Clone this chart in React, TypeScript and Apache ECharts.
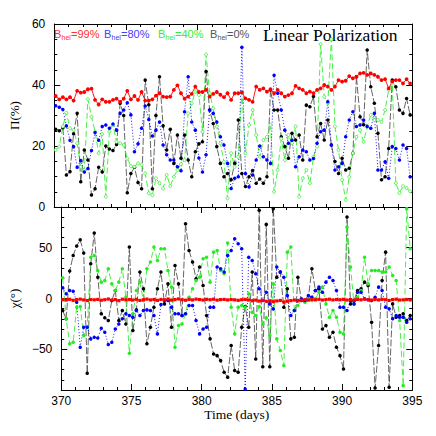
import React, { useEffect, useRef } from "react";
import * as echarts from "echarts";

// Observation times (days)
const times = [
  370.1, 370.35, 370.6, 370.85, 371.1, 371.35, 371.6, 371.85, 372.1, 372.35, 372.6, 372.85,
  373.1, 373.35, 373.6, 373.85, 374.1, 374.35, 374.6, 374.85, 375.1, 375.35, 375.6, 375.85,
  376.1, 376.35, 376.6, 376.85, 377.1, 377.35, 377.6, 377.85, 378.1, 378.35, 378.6, 378.85,
  379.1, 379.35, 379.6, 379.85, 380.1, 380.35, 380.6, 380.85, 381.1, 381.35, 381.6, 381.85,
  382.1, 382.35, 382.6, 382.85, 383.1, 383.35, 383.6, 383.85, 384.1, 384.35, 384.6, 384.85,
  385.1, 385.35, 385.6, 385.85, 386.1, 386.35, 386.6, 386.85, 387.1, 387.35, 387.6, 387.85,
  388.1, 388.35, 388.6, 388.85, 389.1, 389.35, 389.6, 389.85, 390.1, 390.35, 390.6, 390.85,
  391.1, 391.35, 391.6, 391.85, 392.1, 392.35, 392.6, 392.85, 393.1, 393.35, 393.6, 393.85,
  394.1, 394.35, 394.6, 394.85,
];

// Linear polarization Π (%)
const polB99 = [
  36.4, 35.3, 36, 35.3, 36, 34.9, 38.1, 37.5, 37.7, 38.6, 38.8, 35.1, 33.6, 35.3, 34.5, 34.5,
  35.1, 35.5, 34.5, 35.5, 38.1, 35.3, 36.4, 35.1, 37.7, 34.9, 34.9, 35.3, 36.5, 37.3, 36.2, 36,
  36.2, 38.4, 39.9, 37.3, 35.5, 36.2, 37.1, 39.5, 37.7, 37.7, 38.4, 36.2, 37.1, 37.7, 36.8, 36,
  37.3, 35.1, 37.3, 37.3,
  37.6, 35.6, 35.1, 34.5, 39.5, 38.4, 38.9, 37.8, 38.6, 37.3, 38.4, 37.3, 36.2, 36.7, 37.3, 39.7,
  38.9, 38.4, 37.3, 37.8, 37.3, 38.4, 38.9, 40, 39.5, 38.4, 39.5, 41.6, 41.1, 41.4, 42.9, 42.2,
  42.7, 43.8, 44, 43.3, 43.8, 43.3, 42.7, 41.6, 41.9, 38.9, 41.1, 41.6, 41.6, 40.5, 41.9, 40.5,
];
const polB80 = [
  33.2, 32.7, 32, 26.6, 21.9, 19.8, 13, 15.2, 11.5, 12.6, 18.5, 24.4, 21.9, 26.4, 26.9, 25.8,
  27.2, 25.2, 30.7, 31.8, 34.2, 30.2, 18.1, 20.7, 25.8, 33.1, 28.7, 23.3, 25.2, 27.9, 20.3, 17.1,
  15.4, 15.4, 13.2, 11.9, 31.2, 42.7, 27.9, 25.2, 16.1, 11.5, 17.1, 31.8, 30.7, 27.9, 23, 20.3,
  14.3, 6.1, 9.4, 9.9, 52.4,
  11, 6.6, 10.5, 15.4, 20, 16.5, 15.4, 14.3, 43.2, 37.3, 31.8, 25.2, 20.9, 21.9, 13.2, 16.5,
  18.7, 18.1, 15.4, 15.9, 20.9, 24.7, 25.2, 34.5, 20.3, 12.1, 13.2, 14.3, 23, 28.5, 31.2, 26.4,
  26.9, 28.5, 26.4, 25.8, 30.7, 12.1, 12.1, 14.8, 9.4, 19.8, 19.2, 15.4, 20.3, 19.2, 9.9,
];
const polB40 = [
  18.7, 19.8, 26.4, 30.9, 25.8, 25.2, 20.9, 13.2, 12.1, 35.3, 29.6, 24.7, 17.6, 23.9, 3.4, 24.7,
  26.9, 21.4, 20.9, 20.3, 15.9, 13.4, 13.2, 14.3, 13.8, 11, 4.5, 3.9, 9.4, 7.8, 6.1, 10.5,
  6.9, 9.9, 12.1, 14.1, 15.4, 30.7, 34, 37.8, 36.7, 24.7,
  50, 37.3, 32.3, 26.4, 20.9, 14.8, 2.8, 17.6, 13.2, 16.5, 37.6,
  17.6, 26.9, 31.8, 23.6, 16.5, 21.9, 23, 26.9, 5, 12.1, 22.4, 15.4, 23.6, 20.9, 26.4, 3.4,
  9.4, 12.1, 7.8, 16.5, 19.8,
  53.4, 36.2, 34, 55,
  26.4, 18.7, 8.9, 2.3, 9.9, 17.6, 23, 25.2, 21.4, 26.4, 30.2, 28.5, 28.5, 27.9, 31.8, 38.4,
  40.5, 7.8, 4.6, 6.8, 6.2, 5.1,
];
const polB0 = [
  25.5, 25, 26, 10.5, 11.6, 24, 30.7, 8.3, 18.7, 15.4, 3.9, 6, 13, 11.5, 20, 19, 18.5, 20.5,
  34, 30, 4.7, 11, 13, 8, 6, 41.6, 33.5, 6, 30, 42.7, 26.6, 18.7, 25.5,
  14.3, 23.6, 16, 23.6, 15.4, 9.9, 18.1, 20.7, 21.4, 44.4, 31.8, 27.4, 19.8, 14.3, 9.9, 11,
  8.9, 14.3, 28.5, 11, 6.7, 9.9, 12, 7.8, 9.2, 7.8, 9.9, 38.4, 31.8, 31.8, 23, 19.8, 16, 24.2, 22,
  23.6, 15.4, 33.4, 32.9, 36.2, 23, 27.4, 22, 28.5, 20.3, 14.9, 11, 16, 12.1, 12.7, 17.6,
  42.7, 29.6, 27, 51.5, 39.4, 34, 24.2, 8.9, 9.9, 19.2, 41.6, 39.4, 31.8, 30.7, 35.6, 30.2,
];

// Polarization angle χ (degrees)
const chiB99 = [
  -1.2, -1.5, -0.8, -1.8, -1.1, -0.6, -1.4, -2.0, -1.0, -1.3,
  -0.9, -1.7, -1.2, -0.5, -1.6, -1.1, -2.1, -0.7, -1.3, -1.0,
  -1.5, -0.8, -1.9, -1.2, -0.6, -1.4, -1.0, -1.8, -0.9, -1.3,
  -0.5, -1.6, -1.1, -0.4, -1.2, -1.7, -0.9, -1.4, -0.6, -1.0,
  -1.5, -0.8, -1.2, -0.7, -1.6, -1.1, -0.9, -1.4, -1.0, -1.3,
  -1.8, -1.2, -0.9, -1.5, -2.2, -1.6, -2.5, -1.9, -2.8, -2.2,
  -3.0, -2.4, -1.9, -3.4, -2.7, -2.1, -1.5, -2.3, -1.8, -1.2,
  -1.6, -0.9, -1.3, -0.8, -1.5, -1.1, -0.7, -1.4, -1.0, -1.2,
  -0.8, -1.5, -1.1, -1.7, -0.9, -1.3, -0.6, -1.2, -1.6, -1.0,
  -1.4, -0.8, -1.2, -1.9, -1.1, -0.7, -1.5, -1.3, -1.0, -1.4,
];
const chiB80 = [
  10.5, 4.6, 7.9, 7.2, -3.6, -47.9, -28.2, -28.2, -39.7, -38.1, -38.8, -29.2, -33.2, -45.3, -43, -29.9,
  -25, -20, -15.1, -16.7, -18.4, -11.8, -16.7, -11.8, -11.2, -11.8, -16.7, -34.8, -5.9, -2, -2, -8.5,
  -15.1, -15.1, -16.7, -15.1, -6.9, -6.9, -21.7, -34.8, -29.9, -28.2, -8.5, -8.5, 30.9, 29.3, 26, 42.3,
  47.3, 58.8, 53.9, 48.9, -89,
  40.6, 37.4, 24.3, 9.5, -2, 6.2, -5.3, -10.2, 30.9, 26, 21, 2.9, -16.7, -11.8, -2, -0.3,
  -2, 2.9, 1.3, 7.9, 11.2, 6.2, 16.1, 21, 17.7, 7.9, -8.5, -8.5, -11.8, -2, -5.3, 6.2,
  6.2, -0.3, -1.3, -2, 1.3, 11.2, 7.9, -8.5, -10.2, -20, -16.7, -18.4, -18.4, -23.3, -20,
];
const chiB40 = [
  20.4, -20, -44.6, -43, -8.5, -7.9, -36.5, -28.2, 40.6, 42.3, 27.6, 16.1, 17.7, 29.3, 14.4, 7.9,
  16.1, 29.3, 1.3, -53.9, -15.1, 7.9, 16.1, -2, 29.3, 35.8, 50.6, 37.4, 48.9, 48.9, 27.6, 11.2,
  -47.9, -26.6, -25, -15.1, 1.3, 9.5, 17.7, 21, 39.1, 40.6, 16.1, 45.6, 47.3, 27.6, 24.3, 54.5,
  -8.5, -34.8, -8.5, -6.9, -8.5,
  4.6, -13.5, -16.7, -8, -25, -19, -36.5, 14.4, -39.7, -51.2, -66, 45.6, 50.6, -11.8, -6.9, -2,
  -3.6, 1.3, -2, -0.3, 6.2, 11.2, -5.3, -18.4, -11.8, -18.4, -33.2, -34.8, 70.2, 30.9, -5.3, 1.3,
  7.9, 40.6, 14.4, 27.6, 27.6, 27.6, 26, 26, 30.9, 22.7, 17.7, -21.7, -85.7, 88.4, 48.9,
];
const chiB0 = [
  -11.9, -20, 27, 42.3, 51.6, 57.8, 44.7, -73.5, 34.2, 64.4, 21, -15.1, -19, -21.7, -2, 7.9,
  -21.7, -11.9, -25, 50.6, -31.5, -11.2, 26, 9.5, -44.6, -28.2, -8.5, 9.5, 26, -5.3, 14.4, -28.2,
  32.5, 14.4, -16.7, 73.6, 47.3, 35.8, 19.4, 30.9, 12.8, -16.7, -39.7, -54.5, -56.2, -61.1, -72.6, -77.5,
  -46.3, -70.9, -72.6, -28.2,
  -7.9, -28.2, 26, -59.5, 86.7, -67.1, 72.9, -67.1, 88.4, 21, 26, -8.5, 9.5, -39.7, -38.1, 21,
  -2, -2, 1.3, 29.3, 7.9, 9.5, -29.9, -26.6, -38.1, -33.2, -47.9, -56.2, -69.4, 80.1, -5.3, -2,
  7.9, 9.5, 16.1, 12.8, -23.3, -88, -46.3, 17.7, 45.6, -87.3, -5.3, -18.4, -16.7, -15.1, -21.7, -16.7,
];

const legendItems = [
  { label: "=99%", color: "#ff3030" },
  { label: "=80%", color: "#4040ff" },
  { label: "=40%", color: "#33ee33" },
  { label: "=0%", color: "#555555" },
];
const timeTicks = [370, 375, 380, 385, 390, 395];
const chiLabelValues = [-50, 0, 50];

const COLORS = { b99: "#ff0000", b80: "#0000ff", b40: "#22ee22", b0: "#000000" };

const GL = 47.7;
const GW = 364.6;
const TOP1 = 24;
const H = 183;
const TOP2 = TOP1 + H;

const sansFont = "Liberation Sans, Arial, sans-serif";
const serifFont = "Liberation Serif, Times New Roman, serif";

function pairs(vals: number[]) {
  return times.map((t, i) => [t, vals[i]]);
}

function xAxisDef(gridIndex: number, position: string, showLabel: boolean, name?: string) {
  return {
    type: "value",
    gridIndex,
    position,
    min: timeTicks[0],
    max: timeTicks[timeTicks.length - 1],
    interval: 5,
    name: name || "",
    nameLocation: "middle",
    nameGap: 14,
    nameTextStyle: { fontFamily: serifFont, fontSize: 13.5, color: "#000" },
    axisLine: { show: true, onZero: false, lineStyle: { color: "#000", width: 1 } },
    axisTick: { show: true, inside: true, length: 6, lineStyle: { color: "#000", width: 1 } },
    minorTick: { show: true, splitNumber: 5, length: 3, lineStyle: { color: "#000", width: 1 } },
    splitLine: { show: false },
    axisLabel: {
      show: showLabel,
      margin: 5,
      fontFamily: sansFont,
      fontSize: 12,
      color: "#000",
    },
  };
}

function fmtMinus(v: number) {
  return v < 0 ? "\u2212" + Math.abs(v) : String(v);
}

export default function App() {
  const ref = useRef<HTMLDivElement>(null);

  useEffect(() => {
    if (!ref.current) return;
    const chart = echarts.init(ref.current, undefined, { renderer: "svg" });

    const lineCommon = { showSymbol: true, animation: false, clip: true };

    const legendGraphics: any[] = [];
    const xs = [54, 104, 158, 210];
    legendItems.forEach((it, i) => {
      legendGraphics.push({
        type: "text",
        x: xs[i],
        y: 34,
        style: { text: "B", fill: it.color, font: `11px ${sansFont}`, verticalAlign: "middle" },
      });
      legendGraphics.push({
        type: "text",
        x: xs[i] + 7.5,
        y: 37,
        style: { text: "hel", fill: it.color, font: `7px ${sansFont}`, verticalAlign: "middle" },
      });
      legendGraphics.push({
        type: "text",
        x: xs[i] + 17,
        y: 34,
        style: { text: it.label, fill: it.color, font: `11px ${sansFont}`, verticalAlign: "middle" },
      });
    });
    legendGraphics.push({
      type: "text",
      x: 263,
      y: 35,
      style: {
        text: "Linear Polarization",
        fill: "#000",
        font: `17.5px ${serifFont}`,
        verticalAlign: "middle",
      },
    });

    const blackLine = { color: "#555", width: 0.9, type: [7, 2] };
    const greenLine = { color: "#33ee33", width: 0.9, type: [6, 3] };
    const blueLine = { color: COLORS.b80, width: 0.9, type: [1, 2] };

    const option: any = {
      animation: false,
      backgroundColor: "#ffffff",
      grid: [
        { left: GL, top: TOP1, width: GW, height: H },
        { left: GL, top: TOP2, width: GW, height: H },
      ],
      xAxis: [
        xAxisDef(0, "bottom", false),
        xAxisDef(0, "top", false),
        xAxisDef(1, "bottom", true, "Time (days)"),
        xAxisDef(1, "top", false),
      ],
      yAxis: [
        {
          type: "value",
          gridIndex: 0,
          position: "left",
          min: 0,
          max: 60,
          interval: 20,
          name: "\u03a0(%)",
          nameLocation: "middle",
          nameGap: 24,
          nameRotate: 90,
          nameTextStyle: { fontFamily: serifFont, fontSize: 13, color: "#000" },
          axisLine: { show: true, onZero: false, lineStyle: { color: "#000", width: 1 } },
          axisTick: { show: true, inside: true, length: 6, lineStyle: { color: "#000" } },
          minorTick: { show: true, splitNumber: 4, length: 3, lineStyle: { color: "#000" } },
          splitLine: { show: false },
          axisLabel: { margin: 9, fontFamily: sansFont, fontSize: 12, color: "#000" },
        },
        {
          type: "value",
          gridIndex: 0,
          position: "right",
          min: 0,
          max: 60,
          interval: 20,
          axisLine: { show: true, onZero: false, lineStyle: { color: "#000", width: 1 } },
          axisTick: { show: true, inside: true, length: 6, lineStyle: { color: "#000" } },
          minorTick: { show: true, splitNumber: 4, length: 3, lineStyle: { color: "#000" } },
          splitLine: { show: false },
          axisLabel: { show: false },
        },
        {
          type: "value",
          gridIndex: 1,
          position: "left",
          min: -90,
          max: 90,
          interval: 10,
          name: "\u03c7(\u00b0)",
          nameLocation: "middle",
          nameGap: 31,
          nameRotate: 90,
          nameTextStyle: { fontFamily: serifFont, fontSize: 13, color: "#000" },
          axisLine: { show: true, onZero: false, lineStyle: { color: "#000", width: 1 } },
          axisTick: { show: true, inside: true, length: 3, lineStyle: { color: "#000" } },
          splitLine: { show: false },
          axisLabel: {
            customValues: chiLabelValues,
            margin: 9,
            fontFamily: sansFont,
            fontSize: 12,
            color: "#000",
            formatter: (v: number) => fmtMinus(v),
          },
        },
        {
          type: "value",
          gridIndex: 1,
          position: "left",
          min: -90,
          max: 90,
          interval: 10,
          axisLine: { show: false, onZero: false },
          axisTick: {
            show: true,
            inside: true,
            length: 6,
            customValues: chiLabelValues,
            lineStyle: { color: "#000" },
          },
          splitLine: { show: false },
          axisLabel: { show: false },
        },
        {
          type: "value",
          gridIndex: 1,
          position: "right",
          min: -90,
          max: 90,
          interval: 10,
          axisLine: { show: true, onZero: false, lineStyle: { color: "#000", width: 1 } },
          axisTick: { show: true, inside: true, length: 3, lineStyle: { color: "#000" } },
          splitLine: { show: false },
          axisLabel: { show: false },
        },
        {
          type: "value",
          gridIndex: 1,
          position: "right",
          min: -90,
          max: 90,
          interval: 10,
          axisLine: { show: false, onZero: false },
          axisTick: {
            show: true,
            inside: true,
            length: 6,
            customValues: chiLabelValues,
            lineStyle: { color: "#000" },
          },
          splitLine: { show: false },
          axisLabel: { show: false },
        },
      ],
      series: [
        {
          ...lineCommon,
          type: "line",
          name: "P0",
          xAxisIndex: 0,
          yAxisIndex: 0,
          data: pairs(polB0),
          symbol: "circle",
          symbolSize: 3.5,
          itemStyle: { color: COLORS.b0 },
          lineStyle: blackLine,
        },
        {
          ...lineCommon,
          type: "line",
          name: "P40",
          xAxisIndex: 0,
          yAxisIndex: 0,
          data: pairs(polB40),
          symbol: "circle",
          symbolSize: 3,
          itemStyle: { color: "#ffffff", borderColor: "#33ee33", borderWidth: 0.8 },
          lineStyle: greenLine,
        },
        {
          ...lineCommon,
          type: "line",
          name: "P80",
          xAxisIndex: 0,
          yAxisIndex: 0,
          data: pairs(polB80),
          symbol: "circle",
          symbolSize: 3.5,
          itemStyle: { color: COLORS.b80 },
          lineStyle: blueLine,
        },
        {
          ...lineCommon,
          type: "line",
          name: "P99",
          xAxisIndex: 0,
          yAxisIndex: 0,
          data: pairs(polB99),
          symbol: "circle",
          symbolSize: 3.8,
          itemStyle: { color: COLORS.b99 },
          lineStyle: { color: COLORS.b99, width: 0.9 },
        },
        {
          ...lineCommon,
          type: "line",
          name: "C0",
          xAxisIndex: 2,
          yAxisIndex: 2,
          data: pairs(chiB0),
          symbol: "circle",
          symbolSize: 3.5,
          itemStyle: { color: COLORS.b0 },
          lineStyle: blackLine,
        },
        {
          ...lineCommon,
          type: "line",
          name: "C40",
          xAxisIndex: 2,
          yAxisIndex: 2,
          data: pairs(chiB40),
          symbol: "circle",
          symbolSize: 3.5,
          itemStyle: { color: COLORS.b40 },
          lineStyle: greenLine,
        },
        {
          ...lineCommon,
          type: "line",
          name: "C80",
          xAxisIndex: 2,
          yAxisIndex: 2,
          data: pairs(chiB80),
          symbol: "circle",
          symbolSize: 3.5,
          itemStyle: { color: COLORS.b80 },
          lineStyle: blueLine,
        },
        {
          ...lineCommon,
          type: "line",
          name: "C99",
          xAxisIndex: 2,
          yAxisIndex: 2,
          data: pairs(chiB99),
          symbol: "rect",
          symbolSize: 3.2,
          itemStyle: { color: COLORS.b99 },
          lineStyle: { color: COLORS.b99, width: 0.9 },
        },
      ],
      graphic: legendGraphics,
    };

    chart.setOption(option);
    return () => {
      chart.dispose();
    };
  }, []);

  return (
    <div
      ref={ref}
      style={{ position: "absolute", left: 0, top: 0, width: 436, height: 436, background: "#fff" }}
    />
  );
}
